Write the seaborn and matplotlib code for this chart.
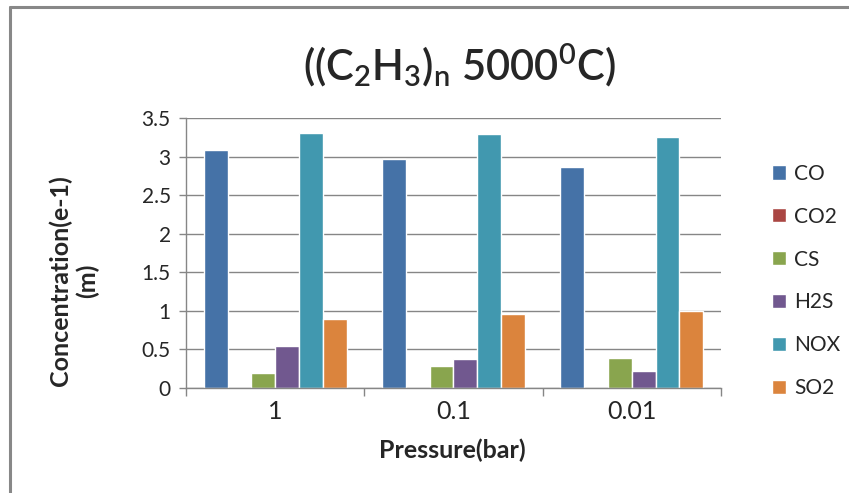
import pandas as pd
import seaborn as sns
import matplotlib.pyplot as plt
from matplotlib.lines import Line2D

# values (Concentration e-1, per pressure)
pressure = ["1", "0.1", "0.01"]
gases = ["CO", "CO2", "CS", "H2S", "NOX", "SO2"]
co = [3.09, 2.97, 2.87]
co2 = [0.0, 0.0, 0.0]
cs = [0.20, 0.29, 0.39]
h2s = [0.54, 0.37, 0.22]
nox = [3.30, 3.29, 3.25]
so2 = [0.89, 0.96, 1.00]
colors = ["#4572A7", "#AA4643", "#89A54E", "#71588F", "#4198AF", "#DB843D"]

df = pd.DataFrame({"Pressure": pressure, "CO": co, "CO2": co2, "CS": cs,
                   "H2S": h2s, "NOX": nox, "SO2": so2})
long_df = df.melt(id_vars="Pressure", var_name="gas", value_name="conc")

sns.set_style("white")
plt.rcParams["font.family"] = ["Lato", "DejaVu Sans"]
plt.rcParams["mathtext.fontset"] = "custom"
plt.rcParams["mathtext.rm"] = "Lato"
plt.rcParams["mathtext.it"] = "Lato"
plt.rcParams["mathtext.bf"] = "Lato:bold"

fig = plt.figure(figsize=(8.49, 4.93), dpi=100)
ax = fig.add_axes([0.2191, 0.2130, 0.8492 - 0.2191, 0.7606 - 0.2130])

sns.barplot(data=long_df, x="Pressure", y="conc", hue="gas", order=pressure,
            hue_order=gases, palette=colors, saturation=1, width=0.8, gap=0,
            ax=ax, legend=True)

grid_c = "#868686"
ax.set_ylim(0, 3.5)
ax.set_xlim(-0.5, 2.5)
ax.set_yticks([0, 0.5, 1, 1.5, 2, 2.5, 3, 3.5])
ax.set_yticklabels(["0", "0.5", "1", "1.5", "2", "2.5", "3", "3.5"])
ax.yaxis.grid(True, color=grid_c, linewidth=1)
ax.set_axisbelow(True)
for s in ["top", "right"]:
    ax.spines[s].set_visible(False)
for s in ["left", "bottom"]:
    ax.spines[s].set_color(grid_c)
    ax.spines[s].set_linewidth(1)
ax.tick_params(axis="y", length=5, color=grid_c, width=1, labelsize=15,
               pad=6, left=True)
ax.tick_params(axis="x", which="major", length=0, labelsize=18, pad=9)
ax.set_xticks([-0.5, 0.5, 1.5, 2.5], minor=True)
ax.tick_params(axis="x", which="minor", length=6, color=grid_c, width=1,
               bottom=True)
ax.set_xlabel("")
ax.set_ylabel("")

handles, labels = ax.get_legend_handles_labels()
ax.get_legend().remove()
fig.legend(handles, labels, loc="center left", bbox_to_anchor=(0.897, 0.430),
           frameon=False, fontsize=15, handlelength=0.68, handleheight=0.68,
           handletextpad=0.4, labelspacing=1.1, borderpad=0)

fig.text(459 / 849, 1 - 80 / 493,
         r"((C$_\mathdefault{2}$H$_\mathdefault{3}$)$_\mathdefault{n}$ 5000$^\mathdefault{0}$C)",
         ha="center", va="baseline", fontsize=30, fontweight="semibold")
fig.text(452 / 849, 1 - 450 / 493, "Pressure(bar)", ha="center", va="center",
         fontsize=18, fontweight="bold")
fig.text(74 / 849, 1 - 281 / 493, "Concentration(e-1)\n(m)", ha="center",
         va="center", rotation=90, fontsize=18, fontweight="bold",
         multialignment="center", linespacing=1.2)

# chart area border (top and left edges)
fig.add_artist(Line2D([9.5 / 849, 1.0], [1 - 6.5 / 493, 1 - 6.5 / 493],
                      color="#888888", linewidth=2.2, transform=fig.transFigure))
fig.add_artist(Line2D([9.5 / 849, 9.5 / 849], [0, 1 - 6.5 / 493],
                      color="#888888", linewidth=2.2, transform=fig.transFigure))

fig.savefig("out.png", dpi=100)
